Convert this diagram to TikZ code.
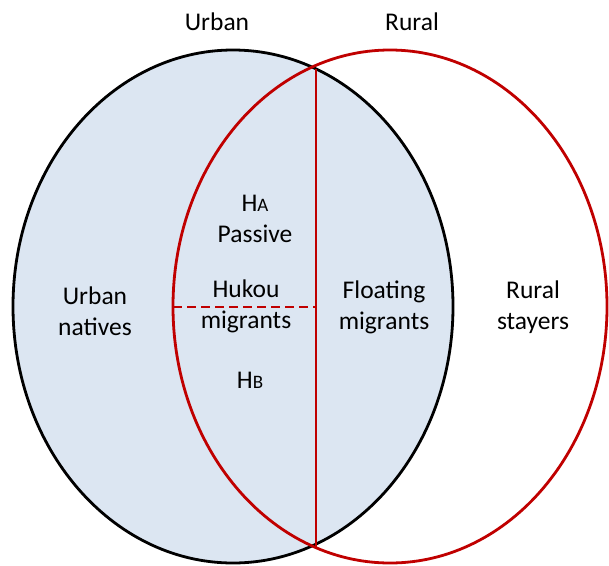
\documentclass[tikz,border=0pt]{standalone}
\usepackage{fontspec}
\setmainfont{Carlito}
\definecolor{urbanfill}{HTML}{DCE6F2}
\definecolor{ruralred}{HTML}{C00000}

\begin{document}
\begin{tikzpicture}[
  x=1pt, y=-1pt,
  every node/.style={text=black,align=center,font=\fontsize{25.5}{31}\selectfont},
  urbanset/.style={draw=black,line width=2.8pt,fill=urbanfill},
  ruralset/.style={draw=ruralred,line width=2.8pt},
  split/.style={ruralset,dash pattern=on 9pt off 5pt}
]
  \useasboundingbox (0,0) rectangle (609,565);
  % the two sets
  \draw[urbanset] (233,306.5) ellipse [x radius=220,y radius=256.5];
  \draw[ruralset] (390,306.5) ellipse [x radius=217,y radius=256.5];
  \coordinate (top) at (316,69);
  \coordinate (bot) at (316,547);
  \coordinate (hleft) at (173,307);
  \coordinate (hmid) at (316,307);
  \draw[ruralset] (top) -- (bot);
  \draw[split] (hleft) -- (hmid);
  % set titles
  \node (urban) at (217,22) {Urban};
  \node (rural) at (412,22) {Rural};
  % regions
  \node (natives) at (95,311) {Urban\\natives};
  \node (ha) at (255,219) {H{\fontsize{19}{19}\selectfont A}\\Passive};
  \node (hukou) at (246,306) {Hukou\\migrants};
  \node (hb) at (250,380) {H{\fontsize{19}{19}\selectfont B}};
  \node (floating) at (384,307) {Floating\\migrants};
  \node (stayers) at (533,307) {Rural\\stayers};
\end{tikzpicture}
\end{document}
